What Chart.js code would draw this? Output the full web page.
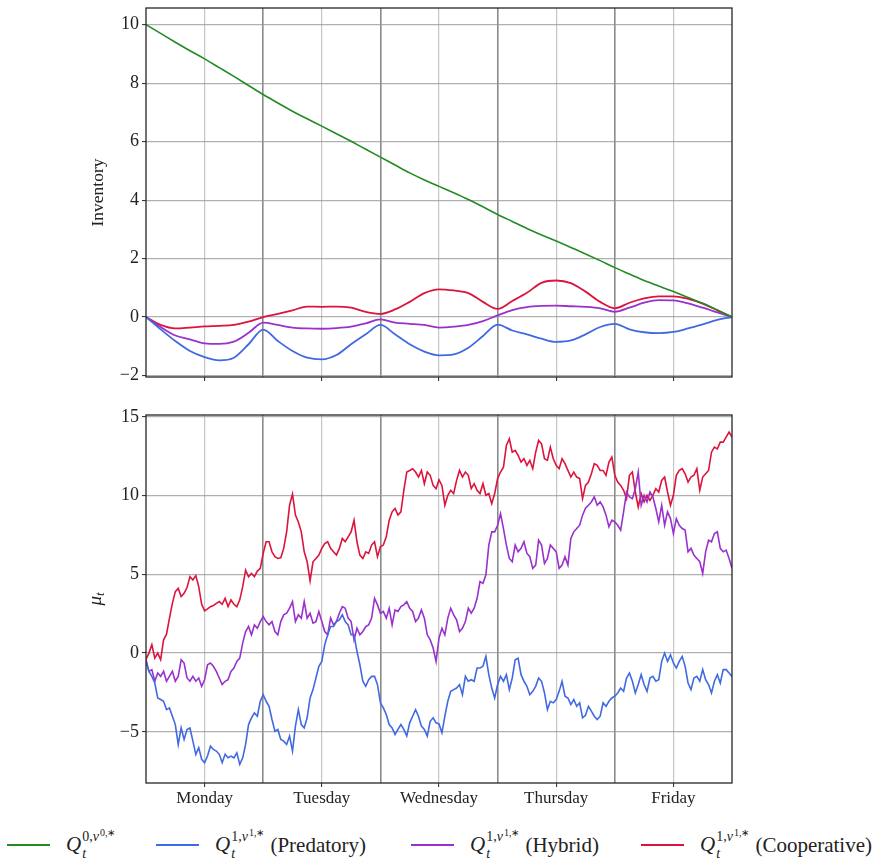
<!DOCTYPE html>
<html>
<head>
<meta charset="utf-8">
<script src="https://cdn.jsdelivr.net/npm/chart.js@4.4.1/dist/chart.umd.min.js"></script>
<style>
  html, body { margin: 0; padding: 0; background: #fff; }
  #wrap { position: relative; width: 874px; height: 862px; overflow: hidden; }
  #inv { position: absolute; left: 0; top: 0; }
  #mu { position: absolute; left: 0; top: 395px; }
  #legend { position: absolute; left: 0; top: 827px; width: 874px; height: 36px; }
  .item { position: absolute; top: 0; height: 36px; display: flex; align-items: center;
          white-space: nowrap; font-family: "Liberation Serif", serif; font-size: 21px; color: #222; }
  .swatch { display: inline-block; width: 43px; height: 2px; margin-right: 16px; }
  .scr { display: inline-flex; flex-direction: column; vertical-align: 10px; font-size: 14px;
         line-height: 16px; margin-left: 1px; }
  .up2 { font-size: 10px; position: relative; top: -5px; margin-left: 1px; }
  .txt { margin-left: 6px; }
</style>
</head>
<body>
<div id="wrap">
  <canvas id="inv" width="874" height="395"></canvas>
  <canvas id="mu" width="874" height="425"></canvas>
  <div id="legend">
    <span class="item" style="left:7px">
      <span class="swatch" style="background:#228b22"></span>
      <span><i>Q</i><span class="scr"><span>0,<i>ν</i><span class="up2">0,∗</span></span><span><i>t</i></span></span></span>
    </span>
    <span class="item" style="left:156px">
      <span class="swatch" style="background:#4169e1"></span>
      <span><i>Q</i><span class="scr"><span>1,<i>ν</i><span class="up2">1,∗</span></span><span><i>t</i></span></span></span>
      <span class="txt">(Predatory)</span>
    </span>
    <span class="item" style="left:411px">
      <span class="swatch" style="background:#9932cc"></span>
      <span><i>Q</i><span class="scr"><span>1,<i>ν</i><span class="up2">1,∗</span></span><span><i>t</i></span></span></span>
      <span class="txt">(Hybrid)</span>
    </span>
    <span class="item" style="left:641px">
      <span class="swatch" style="background:#dc143c"></span>
      <span><i>Q</i><span class="scr"><span>1,<i>ν</i><span class="up2">1,∗</span></span><span><i>t</i></span></span></span>
      <span class="txt">(Cooperative)</span>
    </span>
  </div>
</div>
<script>
// ---- trading week axis ----
const dayNames = ['Monday', 'Tuesday', 'Wednesday', 'Thursday', 'Friday'];
const dayTicks = [0.5, 1, 1.5, 2, 2.5, 3, 3.5, 4, 4.5];

// ---- inventory paths, sampled every 1/8 of a day ----
const invStep = 0.125;
const invMajor = [10.0, 9.70, 9.40, 9.11, 8.83, 8.53, 8.23, 7.92, 7.61, 7.32, 7.04, 6.78, 6.53, 6.27, 6.01, 5.74,
  5.47, 5.20, 4.93, 4.69, 4.47, 4.25, 4.02, 3.77, 3.51, 3.27, 3.03, 2.81, 2.60, 2.38, 2.16, 1.93,
  1.69, 1.47, 1.25, 1.06, 0.87, 0.67, 0.47, 0.24, 0.0];
const invPredatory = [0, -0.42, -0.82, -1.16, -1.37, -1.48, -1.39, -0.93, -0.43, -0.82, -1.16, -1.39, -1.45, -1.30, -0.93, -0.59,
  -0.27, -0.59, -0.93, -1.18, -1.31, -1.28, -1.05, -0.65, -0.26, -0.46, -0.59, -0.74, -0.85, -0.80, -0.59, -0.34,
  -0.23, -0.42, -0.52, -0.55, -0.51, -0.39, -0.25, -0.10, 0];
const invHybrid = [0, -0.34, -0.63, -0.76, -0.90, -0.92, -0.84, -0.54, -0.19, -0.27, -0.36, -0.39, -0.40, -0.38, -0.33, -0.22,
  -0.08, -0.19, -0.23, -0.27, -0.36, -0.33, -0.27, -0.14, 0.06, 0.24, 0.34, 0.38, 0.39, 0.37, 0.35, 0.30,
  0.18, 0.32, 0.49, 0.58, 0.57, 0.47, 0.32, 0.16, 0];
const invCooperative = [0, -0.27, -0.39, -0.36, -0.32, -0.30, -0.27, -0.16, 0.0, 0.11, 0.23, 0.36, 0.35, 0.36, 0.32, 0.18,
  0.11, 0.26, 0.52, 0.82, 0.95, 0.91, 0.82, 0.52, 0.28, 0.55, 0.83, 1.17, 1.25, 1.16, 0.87, 0.52,
  0.30, 0.49, 0.64, 0.71, 0.71, 0.62, 0.46, 0.23, 0];
const invTicks = [-2, 0, 2, 4, 6, 8, 10];

// ---- mu_t paths, sampled every 1/40 of a day ----
const muStep = 1 / 40;
const muPredatory = [-0.53, -1.16, -1.48, -1.9, -2.85, -2.95, -3.06, -3.59, -3.48, -4.01, -4.54, -5.8, -4.75, -5.49, -4.85, -4.75,
  -5.59, -6.43, -6.01, -6.75, -6.96, -6.54, -5.91, -6.12, -6.22, -6.43, -6.96, -6.43, -6.65, -6.54, -6.65, -6.33,
  -7.07, -6.65, -5.8, -4.54, -4.11, -3.8, -4.01, -3.06, -2.64, -3.06, -3.38, -4.22, -4.96, -4.85, -5.49, -5.59,
  -5.8, -5.27, -6.22, -4.64, -3.59, -4.54, -4.75, -4.11, -2.85, -2.32, -1.58, -0.84, -0.53, 0.53, 1.16, 1.69,
  1.69, 2.0, 2.11, 2.43, 2.0, 1.79, 1.16, 1.16, 0.11, -0.74, -1.79, -2.11, -1.69, -1.48, -1.48, -2.0,
  -3.16, -3.48, -3.9, -4.54, -4.75, -5.17, -4.85, -4.54, -4.85, -5.27, -4.43, -4.01, -3.59, -4.01, -4.64, -4.85,
  -5.27, -4.33, -4.11, -4.43, -4.5, -5.06, -4.01, -3.06, -2.43, -2.32, -2.22, -2.0, -2.64, -1.48, -1.79, -1.69,
  -1.79, -0.95, -0.95, -0.84, -0.21, -1.37, -2.22, -2.85, -2.0, -1.48, -1.79, -1.37, -2.32, -1.58, -0.42, -0.32,
  -1.37, -1.79, -2.11, -2.64, -2.43, -2.11, -1.58, -1.79, -2.53, -3.59, -3.06, -3.16, -2.95, -2.43, -1.79, -2.74,
  -2.85, -3.27, -2.95, -3.38, -3.16, -4.11, -3.95, -3.38, -3.69, -4.01, -4.22, -4.01, -3.16, -3.38, -3.06, -2.85,
  -2.74, -2.53, -2.22, -2.43, -1.58, -1.27, -1.79, -2.53, -2.0, -1.37, -2.0, -2.43, -1.58, -1.48, -1.79, -1.69,
  -0.53, 0.0, -0.53, -0.11, -0.63, -0.95, -0.53, -0.21, -0.84, -1.9, -2.32, -1.58, -1.48, -1.79, -1.05, -1.69,
  -2.0, -2.53, -1.79, -1.37, -1.9, -1.05, -1.05, -1.27, -1.48];
const muHybrid = [-0.42, -1.16, -1.05, -1.79, -1.27, -1.48, -1.16, -1.79, -1.48, -1.16, -1.79, -1.48, -0.42, -0.63, -1.58, -1.79,
  -1.48, -1.79, -1.58, -2.11, -1.69, -0.74, -0.63, -0.84, -1.16, -1.58, -2.0, -1.79, -1.69, -1.16, -0.95, -0.53,
  -0.32, 0.63, 1.37, 1.69, 1.16, 1.79, 1.58, 2.0, 2.32, 2.0, 1.79, 2.0, 1.37, 1.16, 2.0, 2.43,
  2.53, 2.85, 3.27, 2.0, 2.43, 2.22, 3.27, 2.22, 2.53, 1.9, 2.0, 2.64, 2.0, 1.37, 1.16, 2.22,
  1.79, 2.0, 2.53, 2.95, 2.85, 2.22, 2.0, 0.84, 1.58, 1.16, 1.37, 1.69, 1.79, 2.22, 3.48, 3.06,
  2.53, 2.64, 2.22, 2.85, 1.79, 2.74, 2.64, 2.95, 3.06, 3.27, 2.85, 2.64, 2.0, 2.22, 2.74, 2.22,
  1.16, 0.84, 0.32, -0.53, 0.95, 1.58, 1.16, 2.22, 2.85, 2.43, 2.11, 1.37, 1.58, 2.0, 2.85, 2.53,
  2.85, 3.48, 4.54, 4.43, 4.96, 6.86, 7.7, 7.7, 8.12, 8.86, 7.91, 6.86, 6.01, 5.8, 6.86, 6.43,
  6.65, 7.07, 6.33, 6.12, 5.38, 5.59, 7.17, 6.86, 5.7, 6.01, 6.86, 6.65, 6.43, 5.38, 5.59, 6.12,
  5.59, 7.28, 7.7, 7.91, 8.12, 8.76, 9.2, 9.39, 9.6, 9.92, 9.39, 9.6, 9.28, 8.76, 8.02, 8.44,
  8.33, 8.12, 7.81, 8.97, 10.23, 9.92, 9.81, 10.44, 11.5, 9.39, 10.02, 9.6, 10.23, 9.92, 9.18, 8.33,
  9.39, 8.12, 8.97, 8.54, 7.59, 8.54, 8.12, 7.91, 7.81, 6.43, 6.65, 6.22, 6.01, 5.8, 5.06, 6.43,
  7.17, 7.07, 7.59, 7.7, 6.65, 6.43, 6.54, 6.01, 5.38];
const muCooperative = [-0.4, 0.0, 0.53, -0.32, 0.0, -0.42, 0.84, 1.2, 2.2, 3.16, 3.9, 4.11, 3.59, 3.8, 4.16, 4.85,
  4.64, 4.92, 4.22, 3.1, 2.68, 2.81, 2.95, 3.02, 3.16, 3.27, 3.1, 3.48, 2.95, 3.38, 3.1, 2.95,
  3.38, 4.22, 5.27, 4.85, 5.06, 4.85, 5.21, 5.38, 6.33, 7.07, 7.07, 6.43, 6.12, 6.01, 6.05, 6.65,
  7.7, 9.39, 10.1, 8.76, 8.33, 7.7, 6.43, 5.8, 4.6, 5.8, 6.01, 6.22, 6.65, 6.96, 7.07, 6.65,
  6.43, 6.22, 6.65, 7.28, 7.07, 7.38, 7.7, 8.44, 7.07, 6.22, 6.01, 6.43, 6.33, 6.86, 7.07, 6.12,
  6.75, 6.86, 7.38, 8.44, 8.97, 9.18, 8.76, 8.97, 10.34, 11.5, 11.6, 11.71, 11.5, 11.18, 11.6, 10.76,
  11.5, 11.29, 10.65, 10.44, 11.0, 10.65, 9.39, 10.02, 10.34, 10.13, 10.97, 11.6, 11.18, 11.5, 11.29, 10.44,
  10.76, 10.34, 10.13, 10.76, 10.02, 10.13, 9.49, 10.13, 11.08, 11.5, 11.81, 13.19, 13.61, 12.76, 12.87, 12.55,
  12.13, 12.34, 11.92, 12.24, 11.71, 12.76, 13.5, 13.29, 12.34, 12.24, 13.08, 12.34, 11.92, 11.71, 12.34, 12.03,
  11.6, 11.18, 11.5, 11.18, 11.08, 9.81, 10.65, 10.86, 11.39, 12.03, 11.92, 11.6, 11.6, 11.29, 12.13, 12.45,
  11.29, 10.86, 10.65, 10.34, 9.81, 11.29, 11.5, 10.23, 9.28, 10.13, 9.6, 10.02, 9.7, 10.02, 10.44, 10.23,
  10.97, 11.18, 10.23, 9.39, 10.02, 11.29, 11.6, 11.71, 11.39, 10.86, 11.18, 11.29, 11.71, 10.34, 11.18, 11.39,
  11.6, 12.76, 13.08, 12.97, 13.4, 13.4, 13.71, 14.03, 13.71];
const muTicks = [-5, 0, 5, 10, 15];

const colors = { major: '#228b22', predatory: '#4169e1', hybrid: '#9932cc', cooperative: '#dc143c' };

// ---- helpers ----
const FAMILY = '"Liberation Serif"';
const toPoints = (vals, step) => vals.map((v, i) => ({ x: i * step, y: v }));
const fmtTick = v => (v < 0 ? '\u2212' + Math.abs(v) : String(v));

function series(vals, step, color, width, smooth) {
  return {
    data: toPoints(vals, step),
    borderColor: color,
    borderWidth: width,
    pointRadius: 0,
    fill: false,
    cubicInterpolationMode: smooth ? 'monotone' : 'default',
    tension: 0
  };
}

// frame around the plotting area, drawn above the lines
const frame = {
  id: 'frame',
  afterDatasetsDraw(chart) {
    const { ctx, chartArea: a } = chart;
    ctx.save();
    ctx.strokeStyle = '#262626';
    ctx.lineWidth = 1.3;
    ctx.strokeRect(a.left, a.top, a.right - a.left, a.bottom - a.top);
    ctx.restore();
  }
};

function xScale(showLabels, axisHeight) {
  return {
    type: 'linear',
    min: 0,
    max: 5,
    afterBuildTicks: s => { s.ticks = dayTicks.map(v => ({ value: v })); },
    afterFit: s => { s.height = axisHeight; s.paddingLeft = 0; s.paddingRight = 0; },
    border: { display: false },
    grid: {
      color: c => (c.tick && c.tick.value % 1 === 0 ? 'rgba(60,60,60,0.6)' : 'rgba(160,160,160,0.6)'),
      lineWidth: c => (c.tick && c.tick.value % 1 === 0 ? 1.6 : 1.2),
      tickLength: 4,
      tickColor: c => (c.tick && c.tick.value % 1 === 0 ? 'rgba(0,0,0,0)' : '#262626'),
      tickWidth: 1
    },
    ticks: {
      autoSkip: false,
      maxRotation: 0,
      padding: 1,
      color: '#222',
      font: { family: FAMILY, size: 17 },
      callback: v => (showLabels && v % 1 !== 0 ? dayNames[Math.floor(v)] : '')
    }
  };
}

function yScale(min, max, tickVals, title) {
  return {
    type: 'linear',
    min: min,
    max: max,
    afterBuildTicks: s => { s.ticks = tickVals.map(v => ({ value: v })); },
    afterFit: s => { s.width = 58; s.paddingTop = 0; s.paddingBottom = 0; },
    border: { display: false },
    grid: { color: 'rgba(150,150,150,0.75)', lineWidth: 1.2, tickLength: 4, tickColor: '#262626', tickWidth: 1 },
    ticks: { padding: 3, color: '#222', font: { family: FAMILY, size: 18 }, callback: v => fmtTick(v) },
    title: title
      ? { display: true, text: title, color: '#222', font: { family: FAMILY, size: 17.5 }, padding: 0 }
      : { display: false }
  };
}

const common = {
  responsive: false,
  animation: false,
  events: [],
  plugins: { legend: { display: false }, tooltip: { enabled: false } }
};

// rotated mu_t label with a subscript
const muLabel = {
  id: 'muLabel',
  afterDraw(chart) {
    const { ctx, chartArea: a } = chart;
    ctx.save();
    ctx.translate(98, (a.top + a.bottom) / 2);
    ctx.rotate(-Math.PI / 2);
    ctx.fillStyle = '#222';
    ctx.textBaseline = 'middle';
    ctx.font = 'italic 19px ' + FAMILY;
    const w1 = ctx.measureText('μ').width;
    ctx.font = 'italic 13px ' + FAMILY;
    const w2 = ctx.measureText('t').width;
    const x0 = -(w1 + w2) / 2;
    ctx.font = 'italic 19px ' + FAMILY;
    ctx.fillText('μ', x0, -2);
    ctx.font = 'italic 13px ' + FAMILY;
    ctx.fillText('t', x0 + w1, 3);
    ctx.restore();
  }
};

function drawCharts() {
  Chart.defaults.font.family = FAMILY;

  // ---- top panel: inventories ----
  new Chart(document.getElementById('inv'), {
    type: 'line',
    data: {
      datasets: [
        series(invMajor, invStep, colors.major, 1.6, true),
        series(invPredatory, invStep, colors.predatory, 1.8, true),
        series(invHybrid, invStep, colors.hybrid, 1.8, true),
        series(invCooperative, invStep, colors.cooperative, 1.8, true)
      ]
    },
    options: Object.assign({}, common, {
      layout: { padding: { left: 88, right: 142, top: 8, bottom: 0 } },
      scales: {
        x: xScale(false, 18),
        y: yScale(-2.05, 10.57, invTicks, 'Inventory')
      }
    }),
    plugins: [frame]
  });

  // ---- bottom panel: mu_t ----
  new Chart(document.getElementById('mu'), {
    type: 'line',
    data: {
      datasets: [
        series(muPredatory, muStep, colors.predatory, 1.6, false),
        series(muHybrid, muStep, colors.hybrid, 1.6, false),
        series(muCooperative, muStep, colors.cooperative, 1.6, false)
      ]
    },
    options: Object.assign({}, common, {
      layout: { padding: { left: 88, right: 142, top: 20, bottom: 0 } },
      scales: {
        x: xScale(true, 37),
        y: yScale(-8.25, 15.12, muTicks, null)
      }
    }),
    plugins: [frame, muLabel]
  });
}

Promise.all([
  document.fonts.load('18px "Liberation Serif"'),
  document.fonts.load('italic 18px "Liberation Serif"')
]).then(drawCharts, drawCharts);
</script>
</body>
</html>
